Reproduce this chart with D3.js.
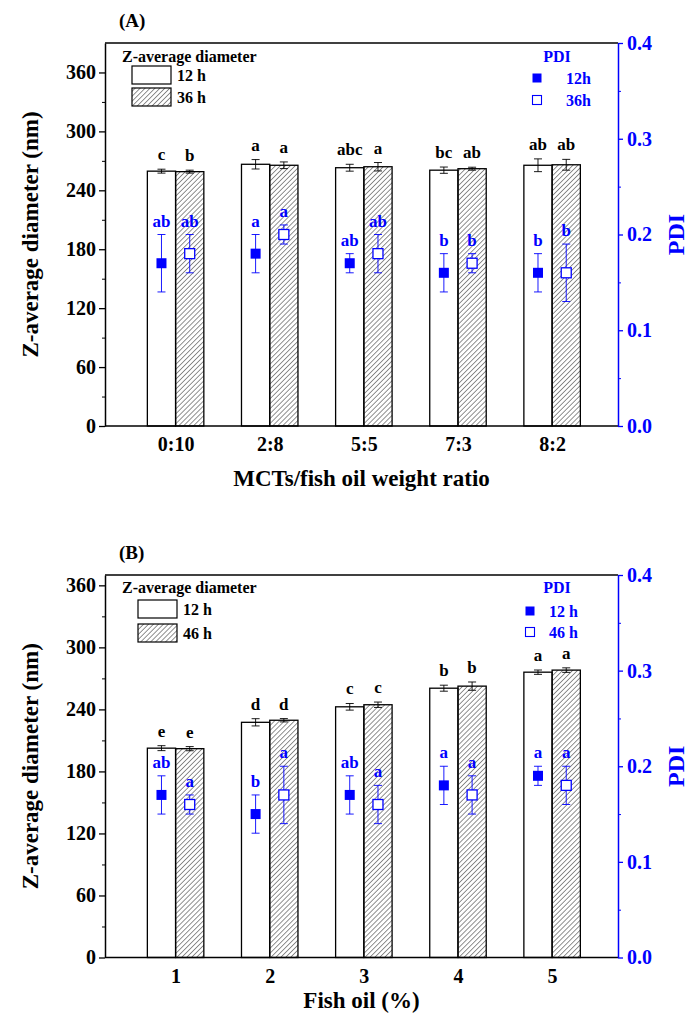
<!DOCTYPE html>
<html>
<head>
<meta charset="utf-8">
<script src="https://cdn.jsdelivr.net/npm/d3@7"></script>
<style>
body { margin: 0; background: #fff; }
text { font-family: "Liberation Serif", "Times New Roman", serif; font-weight: bold; }
</style>
</head>
<body>
<svg id="chart" width="689" height="1021"></svg>
<script>
// ---- data ----
const ratioLabels = ["0:10", "2:8", "5:5", "7:3", "8:2"];
const fishLabels = ["1", "2", "3", "4", "5"];

// panel A : MCTs / fish oil ratio
const zA12 = [259.5, 266.5, 263, 260.5, 265.5];
const zA12Err = [2, 4.8, 3.5, 3.2, 6.5];
const zA36 = [259, 265.5, 264, 262, 266];
const zA36Err = [1.5, 3.4, 4.3, 1.5, 5.5];
const pdiA12 = [0.17, 0.18, 0.17, 0.16, 0.16];
const pdiA12Err = [0.03, 0.02, 0.01, 0.02, 0.02];
const pdiA36 = [0.18, 0.20, 0.18, 0.17, 0.16];
const pdiA36Err = [0.02, 0.01, 0.02, 0.01, 0.03];
const zA12Sig = ["c", "a", "abc", "bc", "ab"];
const zA36Sig = ["b", "a", "a", "ab", "ab"];
const pdiA12Sig = ["ab", "a", "ab", "b", "b"];
const pdiA36Sig = ["ab", "a", "ab", "b", "b"];

// panel B : fish oil %
const zB12 = [202.5, 227.5, 242.5, 260.5, 276];
const zB12Err = [2.4, 3.5, 3.2, 2.9, 2.1];
const zB46 = [202, 229.5, 244.5, 262.5, 278];
const zB46Err = [2, 1.6, 2.6, 4, 2.2];
const pdiB12 = [0.17, 0.15, 0.17, 0.18, 0.19];
const pdiB12Err = [0.02, 0.02, 0.02, 0.02, 0.01];
const pdiB46 = [0.16, 0.17, 0.16, 0.17, 0.18];
const pdiB46Err = [0.01, 0.03, 0.02, 0.02, 0.02];
const zB12Sig = ["e", "d", "c", "b", "a"];
const zB46Sig = ["e", "d", "c", "b", "a"];
const pdiB12Sig = ["ab", "b", "ab", "a", "a"];
const pdiB46Sig = ["a", "a", "a", "a", "a"];

const leftTicks = [0, 60, 120, 180, 240, 300, 360];
const leftMinor = [30, 90, 150, 210, 270, 330];
const rightTicks = [0, 0.1, 0.2, 0.3, 0.4];
const rightMinor = [0.05, 0.15, 0.25, 0.35];

const blue = "#0000ff";
const svg = d3.select("#chart");

svg.append("rect").attr("width", 689).attr("height", 1021).attr("fill", "#fff");

// hatch pattern "////"
const defs = svg.append("defs");
defs.append("pattern")
    .attr("id", "hatch")
    .attr("patternUnits", "userSpaceOnUse")
    .attr("width", 3.5)
    .attr("height", 3.5)
    .attr("patternTransform", "rotate(45)")
    .append("line")
    .attr("x1", 0).attr("y1", 0)
    .attr("x2", 0).attr("y2", 3.5)
    .attr("stroke", "#222")
    .attr("stroke-width", 1);

const drawPanel = (p) => {
    const left = 105, right = 618;
    const top = p.top, bottom = p.bottom;

    const x = d3.scaleLinear().domain([0.25, 5.7]).range([left, right]);
    const yL = d3.scaleLinear().domain([0, p.leftMax]).range([bottom, top]);
    const yR = d3.scaleLinear().domain([0, 0.4]).range([bottom, top]);
    const bw = x(1.3) - x(1);
    const g = svg.append("g");

    const idx = d3.range(p.cats.length);

    // bars
    g.selectAll(".b12").data(idx).enter().append("rect")
        .attr("x", i => x(i + 1) - bw)
        .attr("y", i => yL(p.z1[i]))
        .attr("width", bw)
        .attr("height", i => bottom - yL(p.z1[i]))
        .attr("fill", "#fff").attr("stroke", "#000").attr("stroke-width", 1.3);
    g.selectAll(".b2").data(idx).enter().append("rect")
        .attr("x", i => x(i + 1))
        .attr("y", i => yL(p.z2[i]))
        .attr("width", bw)
        .attr("height", i => bottom - yL(p.z2[i]))
        .attr("fill", "url(#hatch)").attr("stroke", "#000").attr("stroke-width", 1.3);

    const errBar = (cx, v, e, scale, color, cap) => {
        const y1 = scale(v + e), y2 = scale(v - e);
        g.append("line").attr("x1", cx).attr("x2", cx).attr("y1", y1).attr("y2", y2)
            .attr("stroke", color).attr("stroke-width", 0.9);
        [y1, y2].forEach(yy => g.append("line")
            .attr("x1", cx - cap).attr("x2", cx + cap).attr("y1", yy).attr("y2", yy)
            .attr("stroke", color).attr("stroke-width", 0.9));
    };

    idx.forEach(i => {
        const c1 = x(i + 1) - bw / 2, c2 = x(i + 1) + bw / 2;
        errBar(c1, p.z1[i], p.z1e[i], yL, "#000", 4);
        errBar(c2, p.z2[i], p.z2e[i], yL, "#000", 4);
        g.append("text").attr("x", c1).attr("y", yL(p.z1[i] + p.z1e[i]) - 9)
            .attr("text-anchor", "middle").attr("font-size", 17).text(p.s1[i]);
        g.append("text").attr("x", c2).attr("y", yL(p.z2[i] + p.z2e[i]) - 9)
            .attr("text-anchor", "middle").attr("font-size", 17).text(p.s2[i]);

        // PDI points
        errBar(c1, p.p1[i], p.p1e[i], yR, blue, 4);
        errBar(c2, p.p2[i], p.p2e[i], yR, blue, 4);
        g.append("rect").attr("x", c1 - 5).attr("y", yR(p.p1[i]) - 5)
            .attr("width", 10).attr("height", 10).attr("fill", blue);
        g.append("rect").attr("x", c2 - 5).attr("y", yR(p.p2[i]) - 5)
            .attr("width", 10).attr("height", 10).attr("fill", "#fff")
            .attr("stroke", blue).attr("stroke-width", 1.3);
        g.append("text").attr("x", c1).attr("y", yR(p.p1[i] + p.p1e[i]) - 8)
            .attr("text-anchor", "middle").attr("font-size", 17).attr("fill", blue).text(p.ps1[i]);
        g.append("text").attr("x", c2).attr("y", yR(p.p2[i] + p.p2e[i]) - 8)
            .attr("text-anchor", "middle").attr("font-size", 17).attr("fill", blue).text(p.ps2[i]);
    });

    // frame: top + bottom black
    g.append("line").attr("x1", left).attr("x2", right).attr("y1", top).attr("y2", top)
        .attr("stroke", "#000").attr("stroke-width", 1.5);
    g.append("line").attr("x1", left).attr("x2", right).attr("y1", bottom).attr("y2", bottom)
        .attr("stroke", "#000").attr("stroke-width", 1.5);

    // left axis
    const la = g.append("g").attr("transform", `translate(${left},0)`)
        .call(d3.axisLeft(yL).tickValues(leftTicks).tickSize(6).tickSizeOuter(0).tickPadding(3));
    g.append("g").attr("transform", `translate(${left},0)`)
        .call(d3.axisLeft(yL).tickValues(leftMinor).tickSize(3).tickFormat(""))
        .select(".domain").remove();
    la.select(".domain").attr("stroke-width", 1.5);
    la.selectAll("line").attr("stroke-width", 1.3);
    la.selectAll("text").attr("font-size", 20).attr("fill", "#000");

    // right axis
    const ra = g.append("g").attr("transform", `translate(${right},0)`)
        .call(d3.axisRight(yR).tickValues(rightTicks).tickSize(5).tickSizeOuter(0)
            .tickPadding(4).tickFormat(d3.format(".1f")));
    const rm = g.append("g").attr("transform", `translate(${right},0)`)
        .call(d3.axisRight(yR).tickValues(rightMinor).tickSize(3).tickFormat(""));
    rm.select(".domain").remove();
    rm.selectAll("line").attr("stroke", blue);
    ra.select(".domain").attr("stroke", blue).attr("stroke-width", 1.5);
    ra.selectAll("line").attr("stroke", blue).attr("stroke-width", 1.3);
    ra.selectAll("text").attr("font-size", 20).attr("fill", blue);

    // bottom category labels
    const ba = g.append("g").attr("transform", `translate(0,${bottom})`)
        .call(d3.axisBottom(x).tickValues(idx.map(i => i + 1)).tickSize(0).tickPadding(11)
            .tickFormat(d => p.cats[d - 1]));
    ba.select(".domain").remove();
    ba.selectAll("text").attr("font-size", 20).attr("fill", "#000");

    // titles
    g.append("text").attr("x", (left + right) / 2).attr("y", bottom + p.xTitleDy)
        .attr("text-anchor", "middle").attr("font-size", 23).text(p.xTitle);
    g.append("text").attr("transform", `translate(38,${(top + bottom) / 2}) rotate(-90)`)
        .attr("text-anchor", "middle").attr("font-size", 23).text("Z-average diameter (nm)");
    g.append("text").attr("transform", `translate(684,${(top + bottom) / 2}) rotate(-90)`)
        .attr("text-anchor", "middle").attr("font-size", 24).attr("fill", blue).text("PDI");
    g.append("text").attr("x", 119).attr("y", top - 16).attr("font-size", 19).text(p.tag);

    // legend: bars
    const lg = p.legend;
    g.append("text").attr("x", 122).attr("y", lg.titleY).attr("font-size", 16).text("Z-average diameter");
    g.append("rect").attr("x", lg.boxX).attr("y", lg.box1Y).attr("width", 39).attr("height", 18)
        .attr("fill", "#fff").attr("stroke", "#000").attr("stroke-width", 1.2);
    g.append("rect").attr("x", lg.boxX).attr("y", lg.box2Y).attr("width", 39).attr("height", 18)
        .attr("fill", "url(#hatch)").attr("stroke", "#000").attr("stroke-width", 1.2);
    g.append("text").attr("x", lg.boxX + 45).attr("y", lg.box1Y + 15).attr("font-size", 16).text(p.series[0]);
    g.append("text").attr("x", lg.boxX + 45).attr("y", lg.box2Y + 15).attr("font-size", 16).text(p.series[1]);

    // legend: PDI
    g.append("text").attr("x", 557).attr("y", lg.titleY).attr("text-anchor", "middle")
        .attr("font-size", 16).attr("fill", blue).text("PDI");
    g.append("rect").attr("x", lg.sqX - 4.5).attr("y", lg.sq1Y - 4.5).attr("width", 9).attr("height", 9)
        .attr("fill", blue);
    g.append("rect").attr("x", lg.sqX - 4.5).attr("y", lg.sq2Y - 4.5).attr("width", 9).attr("height", 9)
        .attr("fill", "#fff").attr("stroke", blue).attr("stroke-width", 1.1);
    g.append("text").attr("x", lg.sqX + lg.gap).attr("y", lg.sq1Y + 6).attr("font-size", 16)
        .attr("fill", blue).text(p.pdiSeries[0]);
    g.append("text").attr("x", lg.sqX + lg.gap).attr("y", lg.sq2Y + 6).attr("font-size", 16)
        .attr("fill", blue).text(p.pdiSeries[1]);
};

drawPanel({
    top: 43, bottom: 426, leftMax: 390, tag: "(A)",
    cats: ratioLabels, xTitle: "MCTs/fish oil weight ratio", xTitleDy: 60,
    z1: zA12, z1e: zA12Err, z2: zA36, z2e: zA36Err,
    p1: pdiA12, p1e: pdiA12Err, p2: pdiA36, p2e: pdiA36Err,
    s1: zA12Sig, s2: zA36Sig, ps1: pdiA12Sig, ps2: pdiA36Sig,
    series: ["12 h", "36 h"], pdiSeries: ["12h", "36h"],
    legend: { titleY: 62, boxX: 132, box1Y: 66, box2Y: 88, sqX: 537, sq1Y: 78, sq2Y: 100, gap: 29 }
});

drawPanel({
    top: 575, bottom: 957.5, leftMax: 370, tag: "(B)",
    cats: fishLabels, xTitle: "Fish oil (%)", xTitleDy: 50,
    z1: zB12, z1e: zB12Err, z2: zB46, z2e: zB46Err,
    p1: pdiB12, p1e: pdiB12Err, p2: pdiB46, p2e: pdiB46Err,
    s1: zB12Sig, s2: zB46Sig, ps1: pdiB12Sig, ps2: pdiB46Sig,
    series: ["12 h", "46 h"], pdiSeries: ["12 h", "46 h"],
    legend: { titleY: 593, boxX: 138, box1Y: 600, box2Y: 624, sqX: 530, sq1Y: 611, sq2Y: 632, gap: 19 }
});
</script>
</body>
</html>
